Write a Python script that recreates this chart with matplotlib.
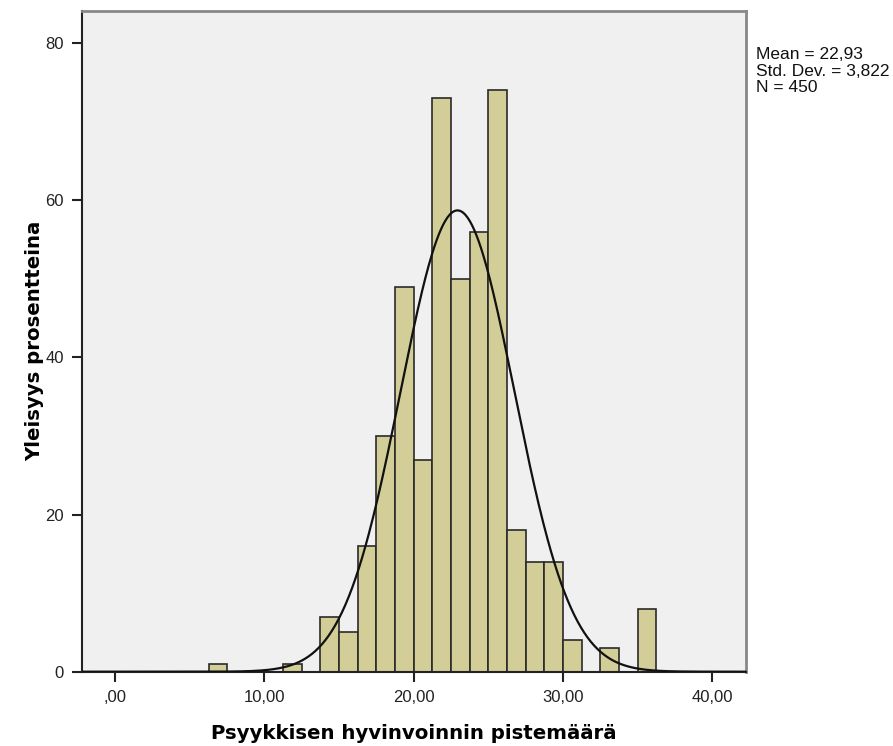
import numpy as np
import matplotlib
matplotlib.use("Agg")
import matplotlib.pyplot as plt

# histogram bins (left edges, width 1.25) and counts
bin_left = [6.25, 11.25, 13.75, 15.0, 16.25, 17.5, 18.75, 20.0, 21.25, 22.5,
            23.75, 25.0, 26.25, 27.5, 28.75, 30.0, 32.5, 35.0]
counts = [1, 1, 7, 5, 16, 30, 49, 27, 73, 50,
          56, 74, 18, 14, 14, 4, 3, 8]
bin_width = 1.25

mean = 22.93
sd = 3.822
n = 450

xticks = [0, 10, 20, 30, 40]
xticklabels = [",00", "10,00", "20,00", "30,00", "40,00"]
yticks = [0, 20, 40, 60, 80]

fig = plt.figure(figsize=(8.93, 7.46), dpi=100)
ax = fig.add_axes([0.0918, 0.0996, 0.7432, 0.8857])
ax.set_facecolor("#f0f0f0")

ax.bar(bin_left, counts, width=bin_width, align="edge",
       color="#d3ce97", edgecolor="#2a2a2a", linewidth=1.2, zorder=2)

xs = np.linspace(-2.3, 42.3, 600)
curve = n * bin_width / (sd * np.sqrt(2 * np.pi)) * np.exp(-0.5 * ((xs - mean) / sd) ** 2)
ax.plot(xs, curve, color="#111111", linewidth=1.6, zorder=3)

ax.set_xlim(-2.23, 42.24)
ax.set_ylim(0, 84.1)
ax.set_xticks(xticks)
ax.set_xticklabels(xticklabels)
ax.set_yticks(yticks)
ax.tick_params(direction="out", length=7, width=1.5, color="#222222",
               labelsize=12, pad=6)
for lab in ax.get_xticklabels() + ax.get_yticklabels():
    lab.set_family("Liberation Sans")
    lab.set_color("#222222")

ax.spines["left"].set_color("#222222")
ax.spines["bottom"].set_color("#222222")
ax.spines["left"].set_linewidth(1.5)
ax.spines["bottom"].set_linewidth(1.5)
ax.spines["top"].set_color("#888888")
ax.spines["right"].set_color("#888888")
ax.spines["top"].set_linewidth(2)
ax.spines["right"].set_linewidth(2)

ax.set_xlabel("Psyykkisen hyvinvoinnin pistemäärä", fontsize=14.2,
              fontweight="bold", family="DejaVu Sans", labelpad=14)
ax.set_ylabel("Yleisyys prosentteina", fontsize=14.2,
              fontweight="bold", family="DejaVu Sans", labelpad=1)

fig.text(0.847, 0.937, "Mean = 22,93\nStd. Dev. = 3,822\nN = 450",
         fontsize=12.5, family="Liberation Sans", va="top", ha="left",
         linespacing=1.13, color="#111111")

fig.savefig("out.png", dpi=100)
